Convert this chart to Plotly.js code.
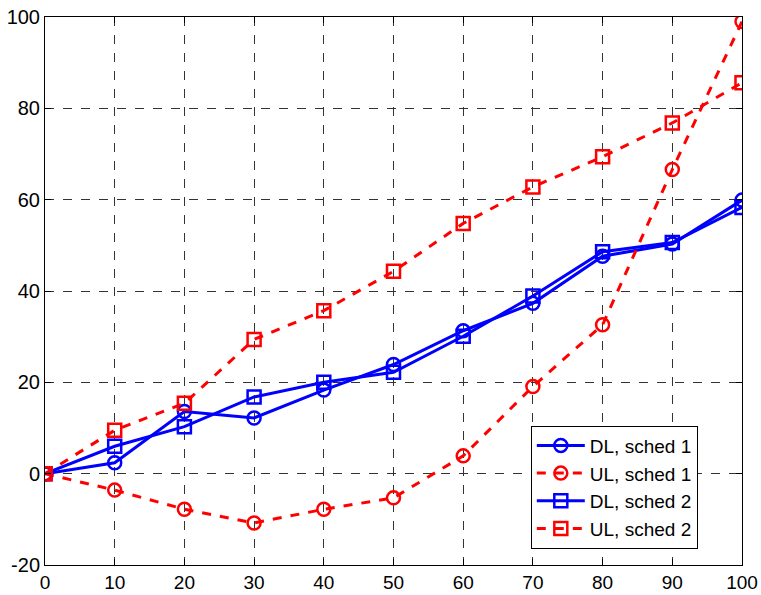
<!DOCTYPE html>
<html><head><meta charset="utf-8">
<script src="https://cdn.plot.ly/plotly-3.0.1.min.js"></script>
<style>html,body{margin:0;padding:0;background:#fff}#chart{width:761px;height:595px}</style>
</head><body><div id="chart"></div>
<script>
const xVals = [0,10,20,30,40,50,60,70,80,90,100];
const dlSched1 = [0,2.4,13.6,12.2,18.3,23.9,31.3,37.3,47.6,50.3,59.9];
const ulSched1 = [0,-3.6,-7.8,-10.8,-7.8,-5.3,3.9,19.1,32.6,66.6,99.0];
const dlSched2 = [0,6.0,10.3,16.8,20.0,22.2,30.1,38.9,48.6,50.6,58.3];
const ulSched2 = [0,9.5,15.4,29.4,35.7,44.3,54.8,62.8,69.4,76.8,85.6];
const names = ['DL, sched 1','UL, sched 1','DL, sched 2','UL, sched 2'];
const tickX = [0,10,20,30,40,50,60,70,80,90,100];
const tickY = [-20,0,20,40,60,80,100];

function tr(y,name,color,dash,sym){
  return {x:xVals,y:y,name:name,type:'scatter',mode:'lines+markers',
    line:{color:color,width:3,dash:dash},
    marker:{symbol:sym,size:13,color:color,line:{color:color,width:2.5}}};
}
const data = [
  tr(dlSched1,names[0],'#0000ff','solid','circle-open'),
  tr(ulSched1,names[1],'#ff0000','dash','circle-open'),
  tr(dlSched2,names[2],'#0000ff','solid','square-open'),
  tr(ulSched2,names[3],'#ff0000','dash','square-open')
];
const axBase = {showline:true,linecolor:'#000',linewidth:1,mirror:'ticks',ticks:'inside',ticklen:6,tickcolor:'#000',
  showgrid:true,gridcolor:'#333',griddash:'dash',gridwidth:1,zeroline:false,
  tickfont:{family:'Liberation Sans, Arial, sans-serif',size:20,color:'#000'}};
const layout = {
  width:761,height:595,
  margin:{l:45,r:19,t:17,b:30},
  paper_bgcolor:'#fff',plot_bgcolor:'#fff',
  xaxis:Object.assign({},axBase,{range:[0,100],tickvals:tickX,ticktext:tickX.map(String),
    tickfont:{family:'Liberation Sans, Arial, sans-serif',size:19,color:'#000'}}),
  yaxis:Object.assign({},axBase,{range:[-20,100],tickvals:tickY,ticktext:tickY.map(String)}),
  showlegend:true,
  legend:{x:0.697,y:0.03,xanchor:'left',yanchor:'bottom',bgcolor:'#fff',bordercolor:'#000',borderwidth:1,
    font:{family:'Liberation Sans, Arial, sans-serif',size:19,color:'#000'},tracegroupgap:0,itemwidth:48}
};
Plotly.newPlot('chart',data,layout,{displayModeBar:false,staticPlot:true});
</script></body></html>
